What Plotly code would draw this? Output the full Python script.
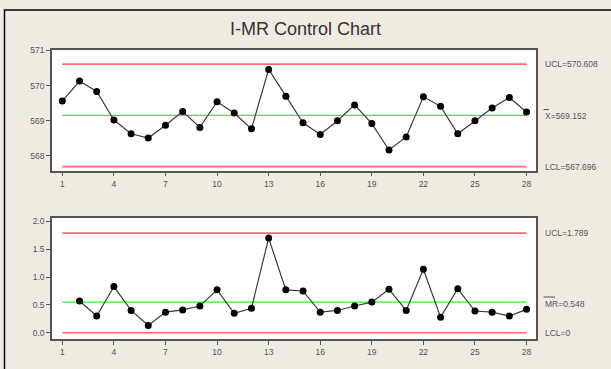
import plotly.graph_objects as go

# ---- data ----
obs = list(range(1, 29))
i_values = [569.56, 570.13, 569.83, 569.02, 568.63, 568.51, 568.87, 569.26, 568.81, 569.54,
            569.22, 568.77, 570.46, 569.70, 568.94, 568.61, 569.00, 569.45, 568.92, 568.17,
            568.54, 569.68, 569.41, 568.63, 569.00, 569.36, 569.66, 569.25]
mr_values = [None, 0.57, 0.30, 0.83, 0.40, 0.13, 0.37, 0.41, 0.48, 0.77,
             0.35, 0.44, 1.70, 0.77, 0.75, 0.37, 0.40, 0.48, 0.55, 0.78,
             0.40, 1.14, 0.28, 0.79, 0.39, 0.37, 0.30, 0.42]
i_ucl, i_cl, i_lcl = 570.608, 569.152, 567.696
mr_ucl, mr_cl, mr_lcl = 1.789, 0.548, 0.0
x_ticks = [1, 4, 7, 10, 13, 16, 19, 22, 25, 28]
i_yticks = [568, 569, 570, 571]
mr_yticks = [0.0, 0.5, 1.0, 1.5, 2.0]

W, H = 611, 369
def px(x):
    return x / W
def py(y):
    return 1 - y / H

RED = "#FF6B6B"
GREEN = "#33F033"
FONT = "Liberation Sans, Arial, sans-serif"
TXT = "#555555"

fig = go.Figure()

# control lines
for yv, col, ax in [(i_ucl, RED, "y"), (i_cl, GREEN, "y"), (i_lcl, RED, "y"),
                    (mr_ucl, RED, "y2"), (mr_cl, GREEN, "y2"), (mr_lcl, RED, "y2")]:
    fig.add_trace(go.Scatter(x=[obs[0], obs[-1]], y=[yv, yv], mode="lines",
                             line=dict(color=col, width=1.6 if col == RED else 1.2),
                             xaxis="x" if ax == "y" else "x2", yaxis=ax,
                             hoverinfo="skip", showlegend=False))

fig.add_trace(go.Scatter(x=obs, y=i_values, mode="lines+markers",
                         line=dict(color="#3a3a3a", width=1.2),
                         marker=dict(color="black", size=7),
                         xaxis="x", yaxis="y", showlegend=False))
fig.add_trace(go.Scatter(x=obs, y=mr_values, mode="lines+markers",
                         line=dict(color="#3a3a3a", width=1.2),
                         marker=dict(color="black", size=7),
                         xaxis="x2", yaxis="y2", showlegend=False))

axis_common = dict(showline=True, mirror=True, linecolor="#555555", linewidth=1.5,
                   ticks="outside", ticklen=4, tickcolor="#555555", showgrid=False,
                   zeroline=False, tickfont=dict(family=FONT, size=8.5, color=TXT))
xd = [px(52), px(536)]
fig.update_layout(
    width=W, height=H,
    margin=dict(l=0, r=0, t=0, b=0),
    paper_bgcolor="#EFEBE1", plot_bgcolor="white",
    xaxis=dict(domain=xd, range=[0.4, 28.55], tickvals=x_ticks, anchor="y", **axis_common),
    yaxis=dict(domain=[py(168), py(46)], range=[567.58, 571.0], tickvals=i_yticks,
               anchor="x", **axis_common),
    xaxis2=dict(domain=xd, range=[0.4, 28.55], tickvals=x_ticks, anchor="y2", **axis_common),
    yaxis2=dict(domain=[py(339), py(216)], range=[-0.12, 2.06], tickvals=mr_yticks,
                tickformat=".1f", anchor="x2", **axis_common),
    showlegend=False,
)

# title
fig.add_annotation(text="I-MR Control Chart", xref="paper", yref="paper",
                   x=px(305), y=py(24), xanchor="center", yanchor="middle",
                   showarrow=False, font=dict(family=FONT, size=18, color="#333333"))

# limit labels
lab_x = px(543)
labels = [("UCL=570.608", i_ucl, "y"), ("X=569.152", i_cl - 0.03, "y"), ("LCL=567.696", i_lcl, "y"),
          ("UCL=1.789", mr_ucl, "y2"), ("MR=0.548", mr_cl - 0.025, "y2"), ("LCL=0", mr_lcl, "y2")]
for t, yv, ax in labels:
    fig.add_annotation(text=t, xref="paper", yref=ax, x=lab_x, y=yv, xanchor="left",
                       yanchor="middle", showarrow=False,
                       font=dict(family=FONT, size=8.5, color=TXT))

# bars over X and MR
fig.add_shape(type="line", xref="paper", yref="paper", x0=px(543.5), x1=px(549),
              y0=py(106), y1=py(106), line=dict(color=TXT, width=1))
fig.add_shape(type="line", xref="paper", yref="paper", x0=px(543.5), x1=px(555),
              y0=py(296), y1=py(296), line=dict(color=TXT, width=1))

# outer frame (top and left edges visible)
fig.add_shape(type="rect", xref="paper", yref="paper", x0=px(4.5), x1=1.05,
              y0=-0.05, y1=py(5), line=dict(color="black", width=1.5))

fig.write_html("out.html", config={"displayModeBar": False},
               post_script="document.body.style.margin='0';document.body.style.overflow='hidden';")
